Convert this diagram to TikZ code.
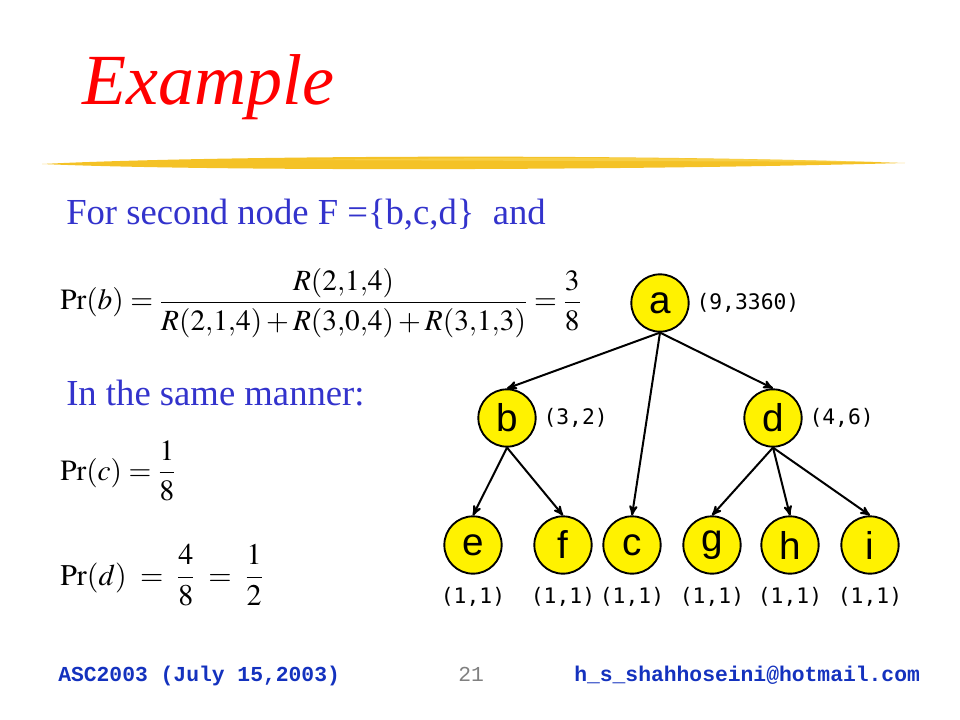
\documentclass[tikz,border=0pt]{standalone}
\usepackage{mathptmx}
\usepackage[no-math]{fontspec}
\setmainfont{Liberation Serif}
\newfontfamily\nodefont{Liberation Sans}
\newfontfamily\labelfont{DejaVu Sans Mono}
\newfontfamily\footfont{Liberation Mono}
\usetikzlibrary{positioning, arrows}
\definecolor{slideblue}{RGB}{51,51,204}
\definecolor{footblue}{RGB}{20,50,190}
\definecolor{brushgold}{RGB}{244,194,38}
\definecolor{brushlight}{RGB}{250,216,92}

\begin{document}
\begin{tikzpicture}[->, >=stealth', x=0.75pt, y=-0.75pt,
  vertex/.style={circle, draw=black, line width=1.4pt, fill=yellow,
    minimum size=43pt, inner sep=0pt, font=\nodefont\fontsize{29}{29}\selectfont},
  weight/.style={inner sep=0pt, font=\labelfont\fontsize{16}{16}\selectfont},
  bodytext/.style={inner sep=0pt, anchor=base west, text=slideblue,
    font=\fontsize{27.5}{30}\selectfont},
  fmla/.style={inner sep=0pt, anchor=base west},
  footer/.style={inner sep=0pt, anchor=base west, text=footblue,
    font=\footfont\bfseries\fontsize{16}{16}\selectfont},
  every edge/.style={draw, line width=1.5pt}]
  \useasboundingbox (0,0) rectangle (960,720);

  % title and brush stroke
  \node[inner sep=0pt, anchor=base west, text=red,
    font=\fontsize{54}{60}\selectfont\itshape] (title) at (82,105) {Example};
  \fill[brushgold] (42,164) .. controls (200,156) and (600,153) .. (905,163)
    .. controls (600,171) and (200,171) .. (42,164) -- cycle;
  \fill[brushlight, opacity=0.6] (300,160) .. controls (500,157) and (700,157) .. (880,162)
    .. controls (700,161) and (500,161) .. (300,160) -- cycle;

  % text and formulas
  \node[bodytext] (intro) at (66,225) {For second node F =\{b,c,d\}\ \ and};
  \node[fmla, font=\fontsize{22}{26}\selectfont] (prb) at (60,310)
    {$\displaystyle \mathrm{Pr}(b)=\frac{R(2{,}1{,}4)}{R(2{,}1{,}4)+R(3{,}0{,}4)+R(3{,}1{,}3)}=\frac{3}{8}$};
  \node[bodytext] (same) at (66,405) {In the same manner:};
  \node[fmla, font=\fontsize{22}{26}\selectfont] (prc) at (60,480)
    {$\displaystyle \mathrm{Pr}(c)=\frac{1}{8}$};
  \node[fmla, font=\fontsize{22.5}{26}\selectfont] (prd) at (60,585)
    {$\displaystyle \mathrm{Pr}(d)\;=\;\frac{4}{8}\;=\;\frac{1}{2}$};

  % tree
  \node[vertex] (a) at (660,303) {a};
  \node[vertex] (b) at (507,418) {b};
  \node[vertex] (d) at (773,418) {d};
  \node[vertex] (e) at (473,545) {e};
  \node[vertex] (f) at (563,545) {f};
  \node[vertex] (c) at (632,545) {c};
  \node[vertex] (g) at (712,545) {g};
  \node[vertex] (h) at (790,545) {h};
  \node[vertex] (i) at (870,545) {i};

  \node[weight, right=5pt of a] (wa) {(9,3360)};
  \node[weight, right=5pt of b] (wb) {(3,2)};
  \node[weight, right=5pt of d] (wd) {(4,6)};
  \foreach \n in {e,f,c,g,h,i}
    \node[weight, below=9pt of \n] (w\n) {(1,1)};

  \path
    % a -> b, c, d
    (a.south) edge (b.north)
    (a.south) edge (c.north)
    (a.south) edge (d.north)
    % b -> e, f
    (b.south) edge (e.north)
    (b.south) edge (f.north)
    % d -> g, h, i
    (d.south) edge (g.north)
    (d.south) edge (h.north)
    (d.south) edge (i.north);

  % footer
  \node[footer] (conf) at (58,681) {ASC2003 (July 15,2003)};
  \node[footer, text=gray, font=\footfont\fontsize{16}{16}\selectfont] (page) at (458,681) {21};
  \node[footer] (mail) at (574,681) {h\_s\_shahhoseini@hotmail.com};
\end{tikzpicture}
\end{document}
